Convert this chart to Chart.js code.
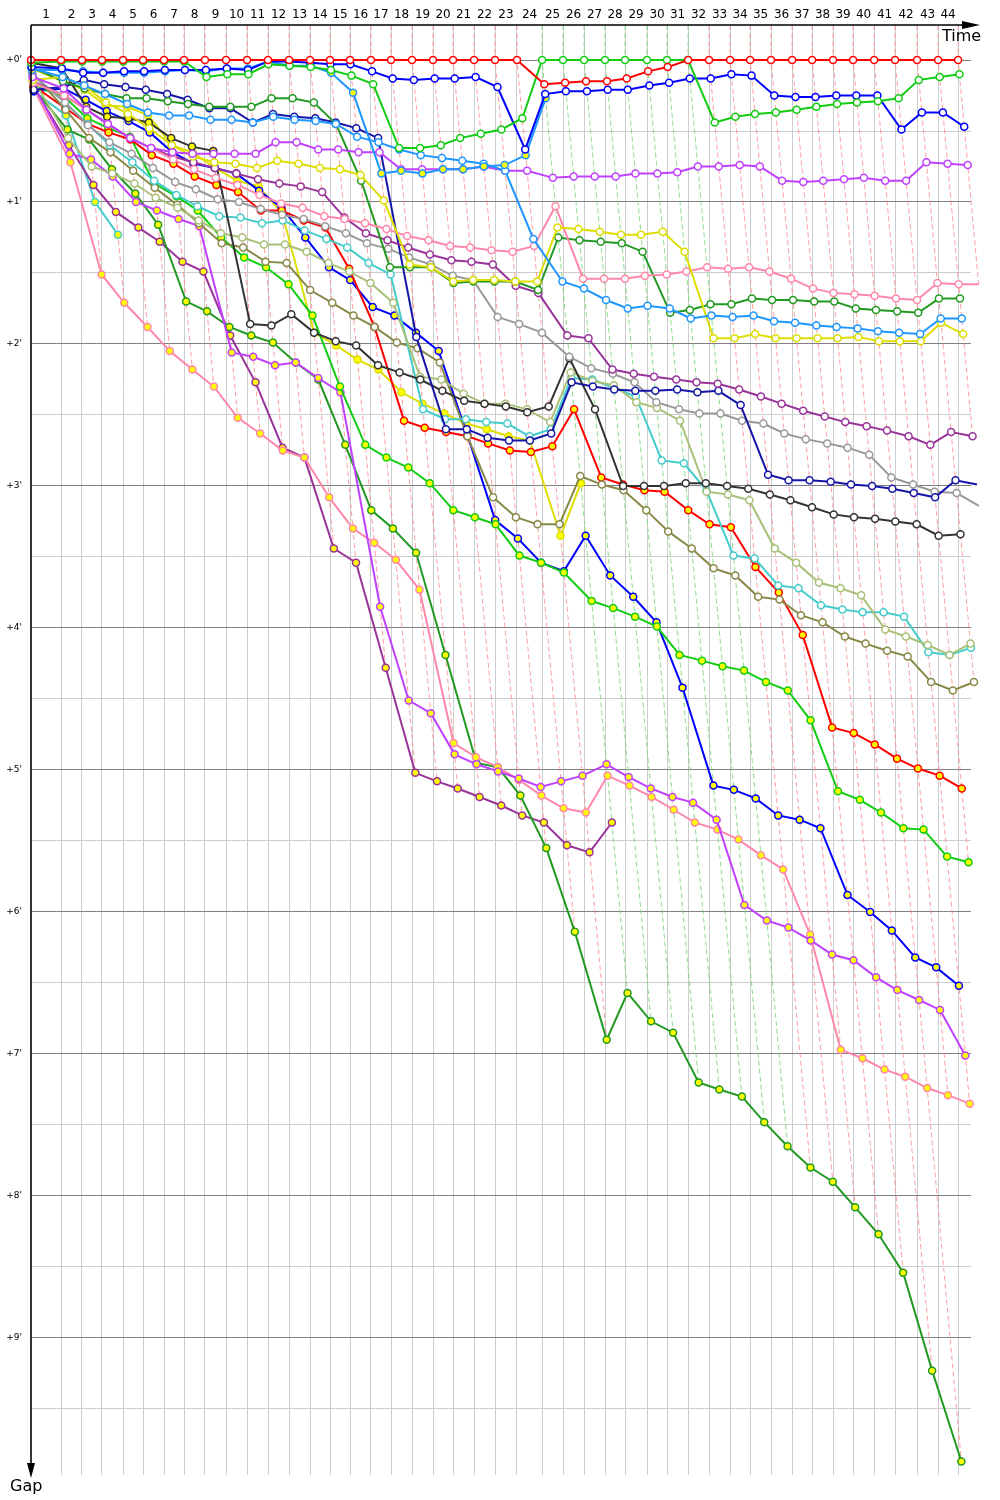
<!DOCTYPE html>
<html><head><meta charset="utf-8">
<script src="https://cdn.jsdelivr.net/npm/chart.js@4.4.1/dist/chart.umd.min.js"></script>
<style>html,body{margin:0;padding:0;background:#fff}canvas{display:block}</style>
</head><body>
<canvas id="c" width="1000" height="1500"></canvas>
<script>
// ---- DATA ----
// leader's elapsed time (minutes) at the end of laps 0..44
const lapTimes = [0, 2.31, 3.92, 5.46, 7.08, 8.62, 10.23, 11.77, 13.38, 15.00, 16.62, 18.23, 19.85, 21.46, 23.00, 24.54, 26.15, 27.69, 29.31, 30.92, 32.46, 34.08, 35.69, 37.38, 39.31, 40.92, 42.54, 44.15, 45.69, 47.38, 48.92, 50.54, 52.15, 53.77, 55.31, 56.92, 58.54, 60.08, 61.69, 63.23, 64.85, 66.46, 68.15, 69.77, 71.31];
const lapLabels = ['1','2','3','4','5','6','7','8','9','10','11','12','13','14','15','16','17','18','19','20','21','22','23','24','25','26','27','28','29','30','31','32','33','34','35','36','37','38','39','40','41','42','43','44'];
const gapTickValues = [0,0.5,1,1.5,2,2.5,3,3.5,4,4.5,5,5.5,6,6.5,7,7.5,8,8.5,9,9.5];
const gapTickLabels = ["+0'","","+1'","","+2'","","+3'","","+4'","","+5'","","+6'","","+7'","","+8'","","+9'",""];

// gap to leader (minutes) per lap, starting at lap 0
const gapRed1 = [0,0,0,0,0,0,0,0,0,0,0,0,0,0,0,0,0,0,0,0,0,0,0,0,0.17,0.16,0.15,0.15,0.13,0.08,0.05,0,0,0,0,0,0,0,0,0,0,0,0,0,0];
const gapGreen1 = [0.02,0.01,0.01,0.01,0.01,0.01,0.01,0.01,0.12,0.10,0.10,0.03,0.04,0.05,0.07,0.11,0.17,0.62,0.62,0.60,0.55,0.52,0.49,0.41,0,0,0,0,0,0,0,0,0.44,0.40,0.38,0.37,0.35,0.33,0.31,0.30,0.29,0.27,0.14,0.12,0.10];
const gapBlue1 = [0.05,0.06,0.09,0.09,0.08,0.08,0.07,0.07,0.07,0.06,0.07,0.01,0.01,0.02,0.03,0.03,0.08,0.13,0.14,0.13,0.13,0.12,0.19,0.63,0.24,0.22,0.22,0.21,0.21,0.18,0.16,0.13,0.13,0.10,0.11,0.25,0.26,0.26,0.25,0.25,0.25,0.49,0.37,0.37,0.47];
const gapDodger1 = [0.07,0.07,0.08,0.09,0.09,0.09,0.08,0.07,0.08,0.06,0.06,0.01,0.04,0.04,0.09,0.23,0.80,0.78,0.80,0.77,0.77,0.75,0.74,0.67,0.27];
const gapDodger2 = [0.06,0.12,0.18,0.24,0.31,0.37,0.39,0.39,0.42,0.42,0.44,0.40,0.42,0.43,0.45,0.54,0.58,0.63,0.67,0.69,0.71,0.73,0.78,1.26,1.56,1.61,1.69,1.75,1.73,1.75,1.82,1.80,1.81,1.80,1.84,1.85,1.87,1.88,1.89,1.91,1.92,1.93,1.82,1.82];
const gapMagenta1 = [0.12,0.20,0.35,0.45,0.55,0.62,0.65,0.66,0.66,0.66,0.66,0.58,0.58,0.63,0.63,0.65,0.65,0.77,0.77,0.77,0.77,0.75,0.78,0.78,0.83,0.82,0.82,0.82,0.80,0.80,0.79,0.75,0.75,0.74,0.75,0.85,0.86,0.85,0.84,0.83,0.85,0.85,0.72,0.73,0.74];
const gapYellow1 = [0.14,0.12,0.18,0.30,0.38,0.48,0.60,0.68,0.72,0.73,0.76,0.71,0.73,0.76,0.77,0.81,0.99,1.44,1.46,1.56,1.55,1.55,1.56,1.56,1.18,1.19,1.21,1.23,1.23,1.21,1.35,1.96,1.96,1.93,1.96,1.96,1.96,1.96,1.95,1.98,1.98,1.98,1.85,1.93];
const gapPink1 = [0.16,0.25,0.35,0.45,0.55,0.62,0.70,0.77,0.83,0.88,0.95,1.01,1.04,1.10,1.12,1.15,1.19,1.24,1.27,1.31,1.32,1.34,1.35,1.31,1.03,1.54,1.54,1.54,1.52,1.51,1.49,1.46,1.47,1.46,1.49,1.54,1.61,1.64,1.65,1.66,1.68,1.69,1.57,1.58,1.58];
const gapDkGreen1 = [0.05,0.15,0.20,0.24,0.27,0.27,0.29,0.31,0.33,0.33,0.33,0.27,0.27,0.30,0.45,0.85,1.46,1.46,1.46,1.57,1.56,1.56,1.56,1.62,1.25,1.27,1.28,1.29,1.35,1.78,1.76,1.72,1.72,1.68,1.69,1.69,1.70,1.70,1.75,1.76,1.77,1.78,1.68,1.68];
const gapPurple1 = [0.15,0.25,0.35,0.45,0.55,0.62,0.68,0.72,0.76,0.80,0.84,0.87,0.89,0.93,1.11,1.22,1.27,1.32,1.37,1.41,1.42,1.44,1.59,1.64,1.94,1.96,2.18,2.21,2.23,2.25,2.27,2.28,2.32,2.37,2.42,2.47,2.51,2.55,2.58,2.61,2.65,2.71,2.62,2.65];
const gapNavy1 = [0.21,0.19,0.14,0.17,0.19,0.21,0.24,0.28,0.34,0.34,0.44,0.38,0.40,0.41,0.44,0.48,0.55,1.95,2.60,2.60,2.66,2.68,2.68,2.63,2.27,2.30,2.32,2.33,2.33,2.32,2.34,2.33,2.43,2.92,2.96,2.96,2.97,2.99,3.00,3.02,3.05,3.08,2.96,2.99];
const gapGray1 = [0.10,0.30,0.46,0.58,0.66,0.76,0.86,0.91,0.98,1.00,1.05,1.09,1.12,1.17,1.22,1.29,1.33,1.39,1.44,1.52,1.55,1.81,1.86,1.92,2.09,2.17,2.21,2.27,2.41,2.46,2.49,2.49,2.54,2.56,2.63,2.67,2.70,2.73,2.78,2.94,2.99,3.04,3.05,3.14];
const gapBlack1 = [0.02,0.06,0.33,0.40,0.41,0.44,0.55,0.61,0.64,1.86,1.87,1.79,1.92,1.98,2.01,2.15,2.20,2.25,2.33,2.40,2.42,2.44,2.48,2.44,2.10,2.46,3.00,3.00,3.00,2.98,2.98,3.00,3.02,3.06,3.10,3.15,3.20,3.22,3.23,3.25,3.27,3.35,3.34];
const gapLtOlive = [0.13,0.55,0.75,0.80,0.87,0.97,1.04,1.13,1.22,1.25,1.30,1.30,1.35,1.43,1.49,1.57,1.71,2.23,2.25,2.35,2.42,2.42,2.46,2.55,2.20,2.26,2.29,2.41,2.45,2.54,3.04,3.06,3.10,3.44,3.54,3.68,3.72,3.77,4.01,4.06,4.12,4.19,4.11];
const gapCyan1 = [0.10,0.30,0.45,0.60,0.72,0.85,0.95,1.03,1.10,1.11,1.15,1.13,1.20,1.26,1.32,1.43,1.51,2.46,2.53,2.53,2.55,2.56,2.65,2.60,2.24,2.25,2.31,2.37,2.82,2.84,3.03,3.49,3.51,3.70,3.72,3.84,3.87,3.89,3.89,3.92,4.17,4.19,4.14];
const gapOlive = [0.09,0.35,0.55,0.65,0.78,0.90,1.02,1.15,1.29,1.32,1.42,1.43,1.62,1.71,1.80,1.88,1.99,2.03,2.13,2.65,3.08,3.22,3.27,3.27,2.93,2.99,3.03,3.17,3.32,3.44,3.58,3.63,3.78,3.80,3.91,3.96,4.06,4.11,4.16,4.20,4.38,4.44,4.38];
const gapRed2 = [0.18,0.34,0.45,0.51,0.56,0.67,0.73,0.82,0.88,0.93,1.06,1.06,1.13,1.18,1.47,1.88,2.54,2.59,2.62,2.65,2.70,2.75,2.76,2.72,2.46,2.94,2.99,3.03,3.04,3.17,3.27,3.29,3.57,3.75,4.05,4.70,4.74,4.82,4.92,4.99,5.04,5.13];
const gapGreen2 = [0.18,0.26,0.41,0.48,0.54,0.87,0.96,1.06,1.25,1.39,1.46,1.58,1.80,2.30,2.71,2.80,2.87,2.98,3.17,3.22,3.27,3.49,3.54,3.61,3.81,3.86,3.92,3.99,4.19,4.23,4.27,4.30,4.38,4.44,4.65,5.15,5.21,5.30,5.41,5.42,5.61,5.65];
const gapBlue2 = [0.22,0.20,0.28,0.36,0.43,0.51,0.65,0.73,0.76,0.80,0.92,1.04,1.25,1.46,1.55,1.74,1.80,1.92,2.05,2.64,3.24,3.37,3.54,3.60,3.35,3.63,3.78,3.96,4.42,5.11,5.14,5.20,5.32,5.35,5.41,5.88,6.00,6.13,6.32,6.39,6.52];
const gapMagenta2 = [0.17,0.66,0.70,0.82,1.00,1.06,1.12,1.17,2.06,2.09,2.15,2.13,2.24,2.34,3.85,4.51,4.60,4.89,4.96,5.01,5.06,5.12,5.08,5.04,4.96,5.05,5.13,5.19,5.23,5.35,5.95,6.06,6.11,6.20,6.30,6.34,6.46,6.55,6.62,6.69,7.01];
const gapPink2 = [0.20,0.72,1.51,1.71,1.88,2.05,2.18,2.30,2.52,2.63,2.75,2.80,3.08,3.30,3.40,3.52,3.73,4.81,4.91,4.98,5.07,5.18,5.27,5.30,5.04,5.11,5.19,5.28,5.37,5.42,5.49,5.60,5.70,6.16,6.97,7.03,7.11,7.16,7.24,7.29,7.35];
const gapDkGreen2 = [0.20,0.49,0.56,0.77,0.94,1.16,1.70,1.77,1.88,1.94,1.99,2.13,2.25,2.71,3.17,3.30,3.47,4.19,4.95,4.98,5.18,5.55,6.14,6.90,6.57,6.77,6.85,7.20,7.25,7.30,7.48,7.65,7.80,7.90,8.08,8.27,8.54,9.23,9.87];
const gapPurple2 = [0.19,0.60,0.88,1.07,1.18,1.28,1.42,1.49,1.94,2.27,2.73,2.80,3.44,3.54,4.28,5.02,5.08,5.13,5.19,5.25,5.32,5.37,5.53,5.58,5.37];
const gapCyan2 = [0.22,0.39,1.00,1.23];
const gapYellow2 = [0.06,0.15,0.21,0.32,0.33,0.39,0.60,0.65,0.76,0.85,0.89,1.08,1.92,2.01,2.11,2.18,2.34,2.42,2.49,2.56,2.60,2.65,2.68,3.35,2.98];

// ---- STYLE ----
const Y_MIN = -0.2465, Y_MAX = 9.965, X_MAX = 72.3;
const WHITE = '#ffffff', YEL = '#ffff00';
const SERIES = [
  {gaps: gapRed1, color: '#ff0000', fill: WHITE},
  {gaps: gapGreen1, color: '#11cc11', fill: WHITE},
  {gaps: gapBlue1, color: '#0000ff', fill: WHITE},
  {gaps: gapDodger1, color: '#1e96ff', fill: YEL},
  {gaps: gapDodger2, color: '#1e96ff', fill: WHITE},
  {gaps: gapMagenta1, color: '#c040ff', fill: WHITE},
  {gaps: gapYellow1, color: '#dddd00', fill: WHITE},
  {gaps: gapPink1, color: '#ff88aa', fill: WHITE},
  {gaps: gapDkGreen1, color: '#229922', fill: WHITE},
  {gaps: gapPurple1, color: '#993399', fill: WHITE},
  {gaps: gapNavy1, color: '#1515a8', fill: WHITE},
  {gaps: gapGray1, color: '#999999', fill: WHITE},
  {gaps: gapBlack1, color: '#333333', fill: WHITE, yellowLaps: 9},
  {gaps: gapLtOlive, color: '#a8c078', fill: WHITE},
  {gaps: gapCyan1, color: '#44cccc', fill: WHITE},
  {gaps: gapOlive, color: '#888848', fill: WHITE},
  {gaps: gapRed2, color: '#ff0000', fill: YEL},
  {gaps: gapGreen2, color: '#11cc11', fill: YEL},
  {gaps: gapBlue2, color: '#0000ff', fill: YEL},
  {gaps: gapMagenta2, color: '#c040ff', fill: YEL},
  {gaps: gapPink2, color: '#ff88aa', fill: YEL},
  {gaps: gapDkGreen2, color: '#229922', fill: YEL},
  {gaps: gapPurple2, color: '#993399', fill: YEL},
  {gaps: gapCyan2, color: '#44cccc', fill: YEL},
  {gaps: gapYellow2, color: '#dddd00', fill: YEL}
];

function seriesPoints(gaps) {
  return gaps.map((g, lap) => ({x: lapTimes[lap] + g, y: g}));
}

const datasets = [];
SERIES.forEach(s => {
  const fills = s.gaps.map((g, lap) => (s.yellowLaps !== undefined ? (lap < s.yellowLaps ? YEL : WHITE) : s.fill));
  datasets.push({
    data: seriesPoints(s.gaps), showLine: true, borderColor: s.color, borderWidth: 2,
    pointRadius: 3.5, pointBorderWidth: 1.5, pointBorderColor: s.color,
    pointBackgroundColor: fills, backgroundColor: s.color, clip: false, order: 0
  });
});

// lap lines (dashed), connecting each lap's crossings, coloured after the leader
let prevLeader = 0;
for (let lap = 1; lap <= 44; lap++) {
  let best = -1, bestGap = Infinity;
  SERIES.forEach((s, i) => {
    if (lap < s.gaps.length) {
      const g = s.gaps[lap];
      if (g < bestGap || (g === bestGap && i === prevLeader)) { best = i; bestGap = g; }
    }
  });
  prevLeader = best;
  const pts = [];
  SERIES.forEach(s => { if (lap < s.gaps.length) pts.push({x: lapTimes[lap] + s.gaps[lap], y: s.gaps[lap]}); });
  pts.sort((a, b) => a.y - b.y);
  pts.unshift({x: lapTimes[lap], y: Y_MIN});
  const green = SERIES[best].color === '#11cc11';
  datasets.push({
    data: pts, showLine: true, borderColor: green ? 'rgba(120,215,120,0.85)' : 'rgba(255,135,135,0.8)',
    borderWidth: 1, borderDash: [5, 3], pointRadius: 0, clip: false, order: 5
  });
}

const axesPlugin = {
  id: 'axesDecor',
  afterDraw(chart) {
    const ctx = chart.ctx, a = chart.chartArea;
    ctx.save();
    ctx.strokeStyle = '#000'; ctx.fillStyle = '#000'; ctx.lineWidth = 1.6;
    ctx.beginPath(); ctx.moveTo(a.left, a.top); ctx.lineTo(966, a.top); ctx.stroke();
    ctx.beginPath(); ctx.moveTo(962, a.top - 4); ctx.lineTo(980, a.top); ctx.lineTo(962, a.top + 4); ctx.closePath(); ctx.fill();
    ctx.beginPath(); ctx.moveTo(a.left, a.top); ctx.lineTo(a.left, 1466); ctx.stroke();
    ctx.beginPath(); ctx.moveTo(a.left - 4, 1463); ctx.lineTo(a.left, 1478); ctx.lineTo(a.left + 4, 1463); ctx.closePath(); ctx.fill();
    ctx.font = '16px "DejaVu Sans"'; ctx.textBaseline = 'alphabetic'; ctx.textAlign = 'left';
    ctx.fillText('Time', 942, 41);
    ctx.fillText('Gap', 10, 1491);
    ctx.restore();
  }
};

new Chart(document.getElementById('c'), {
  type: 'scatter',
  data: {datasets},
  options: {
    responsive: false, animation: false, devicePixelRatio: 1,
    layout: {padding: {left: 0, top: 0, right: 29, bottom: 25}},
    plugins: {legend: {display: false}, tooltip: {enabled: false}},
    scales: {
      x: {
        type: 'linear', position: 'top', min: 0, max: X_MAX,
        afterBuildTicks(scale) {
          const t = [];
          for (let k = 1; k <= 44; k++) { t.push({value: (lapTimes[k - 1] + lapTimes[k]) / 2}); t.push({value: lapTimes[k]}); }
          scale.ticks = t;
        },
        afterFit(scale) { scale.height = 25; },
        ticks: {autoSkip: false, maxRotation: 0, minRotation: 0, padding: 3, color: '#000',
          font: {family: 'DejaVu Sans', size: 12},
          callback: (v, i) => (i % 2 === 0 ? lapLabels[i / 2] : '')},
        grid: {drawTicks: false, lineWidth: 1, color: c => (c.index % 2 === 1 ? '#cccccc' : 'rgba(0,0,0,0)')},
        border: {display: false}
      },
      y: {
        type: 'linear', reverse: true, min: Y_MIN, max: Y_MAX,
        afterBuildTicks(scale) { scale.ticks = gapTickValues.map(v => ({value: v})); },
        afterFit(scale) { scale.width = 31; },
        ticks: {autoSkip: false, padding: 9, color: '#000', font: {family: 'DejaVu Sans', size: 9},
          callback: (v, i) => gapTickLabels[i]},
        grid: {drawTicks: false, lineWidth: 1, color: c => (c.index % 2 === 0 ? '#808080' : '#cccccc')},
        border: {display: false}
      }
    }
  },
  plugins: [axesPlugin]
});
</script>
</body></html>
